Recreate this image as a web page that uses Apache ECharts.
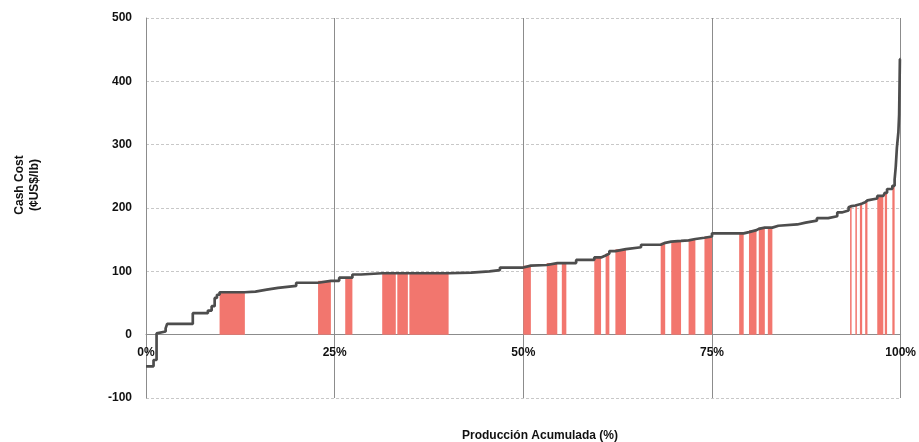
<!DOCTYPE html>
<html>
<head>
<meta charset="utf-8">
<script src="https://cdn.jsdelivr.net/npm/echarts@6/dist/echarts.min.js"></script>
<style>
  html, body { margin: 0; padding: 0; background: #fff; }
  #main { width: 919px; height: 442px; }
</style>
</head>
<body>
<div id="main"></div>
<script>
// producción acumulada (%) al final de cada productor
var shareEnd = [
  1.0, 1.4, 1.5, 2.6, 2.8, 6.2, 8.2, 8.7, 9.1, 9.4,
  9.75, 13.1, 14.5, 16.0, 17.5, 19.9, 22.8, 24.5, 25.6, 26.4,
  27.35, 28.5, 31.3, 33.1, 33.3, 34.7, 34.9, 40.1, 43.1, 45.5,
  46.9, 50.0, 51.0, 53.1, 54.5, 55.1, 55.7, 57.0, 59.4, 60.3,
  60.9, 61.4, 62.2, 63.6, 65.6, 68.2, 68.8, 69.6, 70.9, 71.9,
  72.8, 74.0, 75.0, 78.6, 79.2, 79.9, 80.9, 81.2, 82.0, 82.4,
  83.0, 83.8, 86.3, 87.4, 88.9, 90.4, 91.6, 92.2, 93.1, 93.3,
  93.5, 94.0, 94.2, 94.6, 94.9, 95.3, 95.6, 96.9, 97.7, 97.9,
  98.2, 98.9, 99.2, 99.35, 99.5, 99.7, 99.8, 99.9, 100
];
// cash cost (¢US$/lb) de cada productor
var cashCost = [
  -50, -40, 2, 5, 10, 17, 34, 38, 45, 58,
  63, 67, 68, 71, 74, 77, 82, 85, 85, 90,
  90, 95, 97, 97, 97, 97, 97, 97, 98, 100,
  102, 106, 109, 110, 113, 113, 113, 113, 118, 122,
  125, 128, 132, 135, 138, 142, 145, 147, 148, 149,
  151, 153, 155, 160, 160, 162, 165, 167, 169, 169,
  169, 172, 174, 177, 180, 184, 187, 193, 196, 201,
  203, 204, 205, 206, 207, 209, 212, 215, 219, 222,
  224, 230, 235, 245, 265, 295, 320, 348, 435
];
// productores destacados (barras rojas)
var highlighted = [
  0, 0, 0, 0, 0, 0, 0, 0, 0, 0,
  0, 1, 0, 0, 0, 0, 0, 1, 0, 0,
  1, 0, 0, 1, 0, 1, 0, 1, 0, 0,
  0, 0, 1, 0, 1, 0, 1, 0, 0, 1,
  0, 1, 0, 1, 0, 0, 1, 0, 1, 0,
  1, 0, 1, 0, 1, 0, 1, 0, 1, 0,
  1, 0, 0, 0, 0, 0, 0, 0, 0, 0,
  1, 0, 1, 0, 1, 0, 1, 0, 1, 0,
  1, 0, 1, 0, 0, 0, 0, 0, 0
];
var xTicks = [0, 25, 50, 75, 100];
var yTicks = [-100, 0, 100, 200, 300, 400, 500];

var curve = [];
var bars = [];
var prev = 0;
for (var i = 0; i < shareEnd.length; i++) {
  curve.push([prev, cashCost[i]]);
  curve.push([shareEnd[i], cashCost[i]]);
  if (highlighted[i]) bars.push([prev, shareEnd[i], cashCost[i]]);
  prev = shareEnd[i];
}

var font = '"Liberation Sans", Arial, sans-serif';
var gridTop = 18, gridBottom = 44, height = 442;
// el eje x se dibuja sobre el valor 0 del eje y
var zeroOffset = -(height - gridTop - gridBottom) *
  (0 - yTicks[0]) / (yTicks[yTicks.length - 1] - yTicks[0]);

var chart = echarts.init(document.getElementById('main'));
chart.setOption({
  animation: false,
  grid: { left: 146, right: 14, top: gridTop, bottom: gridBottom },
  xAxis: {
    type: 'value',
    min: xTicks[0], max: xTicks[xTicks.length - 1], interval: 25,
    offset: zeroOffset,
    axisLine: { onZero: false, lineStyle: { color: '#8c8c8c', width: 1 } },
    axisTick: { show: false },
    axisLabel: {
      formatter: '{value}%', fontFamily: font, fontWeight: 'bold',
      fontSize: 12, color: '#111', margin: 12
    },
    splitLine: { show: true, lineStyle: { color: '#8c8c8c', width: 1, type: 'solid' } }
  },
  yAxis: {
    type: 'value',
    min: yTicks[0], max: yTicks[yTicks.length - 1], interval: 100,
    axisLine: { show: true, onZero: false, lineStyle: { color: '#8c8c8c', width: 1 } },
    axisTick: { show: false },
    axisLabel: {
      fontFamily: font, fontWeight: 'bold', fontSize: 12, color: '#111', margin: 14
    },
    splitLine: { show: true, lineStyle: { color: '#c8c8c8', width: 1, type: [3, 2] } }
  },
  graphic: [
    {
      type: 'text', x: 27, y: 185, rotation: Math.PI / 2,
      style: {
        text: 'Cash Cost\n(¢US$/lb)', fill: '#111', font: 'bold 12px ' + font,
        align: 'center', verticalAlign: 'middle', lineHeight: 15
      }
    },
    {
      type: 'text', x: 540, y: 436,
      style: {
        text: 'Producción Acumulada (%)', fill: '#111', font: 'bold 12px ' + font,
        align: 'center', verticalAlign: 'middle'
      }
    }
  ],
  series: [
    {
      type: 'custom',
      data: bars,
      encode: { x: [0, 1], y: 2 },
      z: 2,
      renderItem: function (params, api) {
        var p0 = api.coord([api.value(0), 0]);
        var p1 = api.coord([api.value(1), api.value(2)]);
        return {
          type: 'rect',
          shape: { x: p0[0], y: p1[1], width: p1[0] - p0[0], height: p0[1] - p1[1] },
          style: { fill: '#f2766e' }
        };
      }
    },
    {
      type: 'line',
      data: curve,
      symbol: 'none',
      z: 3,
      lineStyle: { color: '#4d4d4d', width: 2.7 }
    }
  ]
});
</script>
</body>
</html>
